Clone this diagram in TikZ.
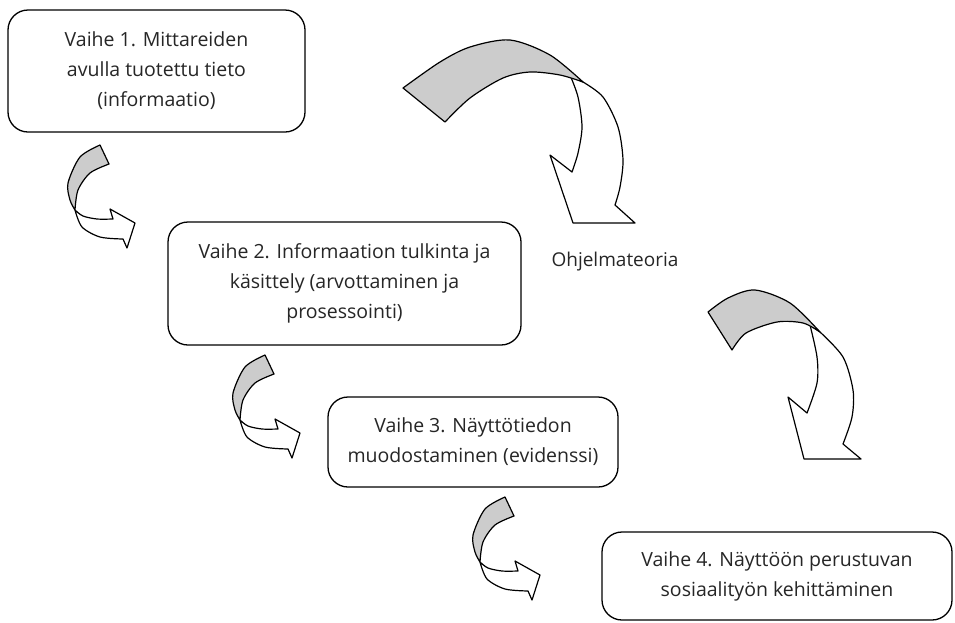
\documentclass[tikz,border=0pt]{standalone}
\usepackage{fontspec}
\setmainfont{Open Sans}
\begin{document}
\begin{tikzpicture}[x=1pt,y=-1pt]
\tikzset{
  stagebox/.style={draw=black, line width=1.3pt, rounded corners=20pt, fill=white,
    align=center, font=\fontsize{19.5}{30}\selectfont, text=black!85, inner sep=0pt},
  ribbon/.style={draw=black, line width=1.2pt, line join=round, fill=gray!40},
  arrowbody/.style={draw=black, line width=1.2pt, line join=round, fill=white},
  plainlabel/.style={font=\fontsize{19}{22}\selectfont, text=black!85, inner sep=0pt},
}
\useasboundingbox (0,0) rectangle (955,622);

% small twisted arrow, drawn at its first position; shifted copies follow
\newcommand{\curlarrow}{%
  \filldraw[arrowbody] plot[smooth] coordinates {(75,210) (83,216) (97,219) (113,219)}
    -- (110,209) -- (135,223) -- (127,248) -- (123,239)
    -- plot[smooth] coordinates {(123,239) (100,237) (82,227) (75,210)} -- cycle;
  \filldraw[ribbon] plot[smooth] coordinates {(100,145) (80,157) (68,183) (70,200) (75,210)}
    -- plot[smooth] coordinates {(75,210) (78,190) (90,173) (109,164)} -- cycle;
}

% stage boxes
\node[stagebox, minimum width=297pt, minimum height=122pt] (s1) at (156.5,71)
  {Vaihe 1. Mittareiden\\avulla tuotettu tieto\\(informaatio)};
\node[stagebox, minimum width=353pt, minimum height=123pt] (s2) at (344.5,283.5)
  {Vaihe 2. Informaation tulkinta ja\\käsittely (arvottaminen ja\\prosessointi)};
\node[stagebox, minimum width=290pt, minimum height=90pt] (s3) at (473,442)
  {Vaihe 3. Näyttötiedon\\muodostaminen (evidenssi)};
\node[stagebox, minimum width=350pt, minimum height=88pt] (s4) at (777,576)
  {Vaihe 4. Näyttöön perustuvan\\sosiaalityön kehittäminen};

\node[plainlabel] (theory) at (615,262) {Ohjelmateoria};

% small arrows between stages
\curlarrow
\begin{scope}[shift={(165,210)}]\curlarrow\end{scope}
\begin{scope}[shift={(405,352)}]\curlarrow\end{scope}

% large arrow, upper
\filldraw[arrowbody] plot[smooth] coordinates {(583,82) (603,97) (618,127) (623,160) (620,187) (615,205)}
  -- (635,223) -- (573,223) -- (550,155) -- (572,172)
  -- plot[smooth] coordinates {(572,172) (578,153) (582,127) (578,97) (570,75)} -- cycle;
\filldraw[ribbon] plot[smooth] coordinates {(403,88) (440,62) (470,47) (510,40) (550,55) (583,82)}
  -- plot[smooth] coordinates {(583,82) (560,75) (530,72) (503,78) (470,98) (445,122)} -- cycle;

% large arrow, lower
\filldraw[arrowbody] plot[smooth] coordinates {(820,332) (843,357) (853,390) (852,417) (843,444)}
  -- (861,459) -- (804,459) -- (788,397) -- (807,413)
  -- plot[smooth] coordinates {(807,413) (817,383) (817,357) (810,325)} -- cycle;
\filldraw[ribbon] plot[smooth] coordinates {(708,312) (728,298) (755,290) (790,303) (820,332)}
  -- plot[smooth] coordinates {(820,332) (803,323) (777,322) (746,333) (732,350)} -- cycle;
\end{tikzpicture}
\end{document}
